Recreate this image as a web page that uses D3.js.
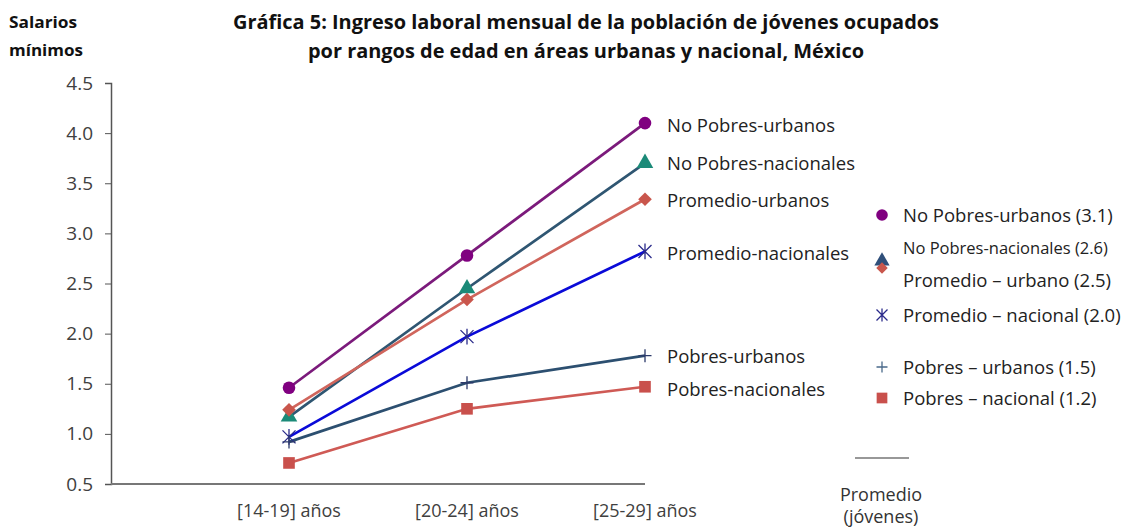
<!DOCTYPE html>
<html>
<head>
<meta charset="utf-8">
<script src="https://cdn.jsdelivr.net/npm/d3@7"></script>
<style>
  body { margin: 0; background: #fff; }
  text { font-family: "Open Sans", "Noto Sans", sans-serif; }
</style>
</head>
<body>
<div class="viz"></div>
<script>
// rangos de edad
const categories = ['[14-19] años', '[20-24] años', '[25-29] años'];
const yTicks = [0.5, 1.0, 1.5, 2.0, 2.5, 3.0, 3.5, 4.0, 4.5];

const noPobresUrbanos = [1.46, 2.78, 4.10];
const noPobresNacionales = [1.17, 2.45, 3.70];
const promedioUrbanos = [1.24, 2.34, 3.34];
const promedioNacionales = [0.97, 1.97, 2.82];
const pobresUrbanos = [0.92, 1.51, 1.78];
const pobresNacionales = [0.71, 1.25, 1.47];

const endLabels = ['No Pobres-urbanos', 'No Pobres-nacionales', 'Promedio-urbanos',
    'Promedio-nacionales', 'Pobres-urbanos', 'Pobres-nacionales'];
const promedioLabels = ['No Pobres-urbanos (3.1)', 'No Pobres-nacionales  (2.6)',
    'Promedio – urbano (2.5)', 'Promedio – nacional (2.0)',
    'Pobres – urbanos (1.5)', 'Pobres – nacional (1.2)'];
const promedioJovenes = [3.1, 2.6, 2.5, 2.0, 1.5, 1.2];

const series = [
    { values: noPobresUrbanos, line: '#7b1a7b', mark: '#800080', sym: 'circle' },
    { values: noPobresNacionales, line: '#2f5672', mark: '#1b8a78', sym: 'triangle' },
    { values: promedioUrbanos, line: '#d0655c', mark: '#c9564c', sym: 'diamond' },
    { values: promedioNacionales, line: '#0a0ad8', mark: '#2a2a8a', sym: 'x' },
    { values: pobresUrbanos, line: '#2c4f70', mark: '#2c3a6a', sym: 'plus' },
    { values: pobresNacionales, line: '#cf5a55', mark: '#c9504c', sym: 'square' }
];

const W = 1131, H = 527;
const svg = d3.select('.viz').append('svg').attr('width', W).attr('height', H);

const x = d3.scaleLinear().domain([0, 3]).range([111, 645]);
const y = d3.scaleLinear().domain([0.5, 4.5]).range([484, 83]);

// titulo
svg.append('text').attr('x', 586).attr('y', 29).attr('text-anchor', 'middle')
    .attr('font-size', 19).attr('font-weight', 'bold').attr('fill', '#111')
    .attr('textLength', 706).attr('lengthAdjust', 'spacingAndGlyphs')
    .text('Gráfica 5: Ingreso laboral mensual de la población de jóvenes ocupados');
svg.append('text').attr('x', 586).attr('y', 58).attr('text-anchor', 'middle')
    .attr('font-size', 19).attr('font-weight', 'bold').attr('fill', '#111')
    .attr('textLength', 556).attr('lengthAdjust', 'spacingAndGlyphs')
    .text('por rangos de edad en áreas urbanas y nacional, México');
svg.append('text').attr('x', 9).attr('y', 28).attr('font-size', 16)
    .attr('font-weight', 'bold').attr('fill', '#111')
    .attr('textLength', 68).attr('lengthAdjust', 'spacingAndGlyphs').text('Salarios');
svg.append('text').attr('x', 9).attr('y', 56).attr('font-size', 16)
    .attr('font-weight', 'bold').attr('fill', '#111')
    .attr('textLength', 74).attr('lengthAdjust', 'spacingAndGlyphs').text('mínimos');

// eje y
const yAxis = svg.append('g').attr('transform', 'translate(111,0)')
    .call(d3.axisLeft(y).tickValues(yTicks).tickFormat(d3.format('.1f')).tickSize(6).tickPadding(12));
yAxis.select('.domain').attr('stroke', '#555').attr('stroke-width', 1.5);
yAxis.selectAll('.tick line').attr('stroke', '#555');
yAxis.selectAll('.tick text').attr('font-size', 19).attr('fill', '#404040')
    .attr('font-family', '"Open Sans", sans-serif');

// eje x
svg.append('line').attr('x1', x(0)).attr('x2', x(3)).attr('y1', y(0.5)).attr('y2', y(0.5))
    .attr('stroke', '#777').attr('stroke-width', 2);
svg.selectAll('.xlab').data(categories).enter().append('text')
    .attr('x', (d, i) => x(i + 1)).attr('y', 517).attr('text-anchor', 'middle')
    .attr('font-size', 18).attr('fill', '#404040').text(d => d);

const symType = {
    circle: d3.symbolCircle, triangle: d3.symbolTriangle,
    x: d3.symbolX, plus: d3.symbolCross, square: d3.symbolSquare
};
function marker(g, s, size) {
    const r = size;
    if (s.sym === 'x' || s.sym === 'plus') {
        const p = s.sym === 'x'
            ? `M${-r},${-r}L${r},${r}M${-r},${r}L${r},${-r}M0,${-r * 1.2}L0,${r * 1.2}`
            : `M${-r},0L${r},0M0,${-r}L0,${r}`;
        g.append('path').attr('d', p).attr('stroke', s.mark).attr('stroke-width', 1.3).attr('fill', 'none');
    } else if (s.sym === 'diamond') {
        const d = r * 1.05;
        g.append('path').attr('d', `M0,${-d}L${d},0L0,${d}L${-d},0Z`).attr('fill', s.mark);
    } else {
        const area = { circle: 115, triangle: 110, square: 125 }[s.sym];
        g.append('path').attr('d', d3.symbol(symType[s.sym], area * size / 6)()).attr('fill', s.mark);
    }
}

const line = d3.line().x((d, i) => x(i + 1)).y(d => y(d));
series.forEach(s => {
    svg.append('path').datum(s.values).attr('d', line)
        .attr('fill', 'none').attr('stroke', s.line).attr('stroke-width', 2.7);
});
series.forEach(s => {
    s.values.forEach((v, i) => {
        const g = svg.append('g').attr('transform', `translate(${x(i + 1)},${y(v)})`);
        marker(g, s, 6.5);
    });
});

// etiquetas al final de las líneas
const endY = [125, 163, 200, 253, 356, 389];
svg.selectAll('.endlab').data(endLabels).enter().append('text')
    .attr('x', 667).attr('y', (d, i) => endY[i] + 7).attr('font-size', 18.5).attr('fill', '#222')
    .text(d => d);

// leyenda promedio (jóvenes)
const legY = [215, 248, 280, 315, 367, 398];
promedioLabels.forEach((t, i) => {
    svg.append('text').attr('x', 903).attr('y', legY[i] + (i === 1 ? 6 : 7))
        .attr('font-size', i === 1 ? 16.5 : 18.5).attr('fill', '#222').text(t)
        .attr('data-value', promedioJovenes[i]);
});
[[0, 215], [1, 261], [2, 268], [3, 315], [4, 367], [5, 398]].forEach(([k, yy]) => {
    const s = Object.assign({}, series[k]);
    if (k === 1) s.mark = '#2f4f7a';
    if (k === 4) s.mark = '#4a6a8a';
    const g = svg.append('g').attr('transform', `translate(882,${yy})`);
    marker(g, s, 5.5);
});
svg.append('line').attr('x1', 855).attr('x2', 909).attr('y1', 458).attr('y2', 458)
    .attr('stroke', '#333').attr('stroke-width', 1.2);
svg.append('text').attr('x', 881).attr('y', 501).attr('text-anchor', 'middle')
    .attr('font-size', 18).attr('fill', '#333').text('Promedio');
svg.append('text').attr('x', 881).attr('y', 523).attr('text-anchor', 'middle')
    .attr('font-size', 18).attr('fill', '#333').text('(jóvenes)');
</script>
</body>
</html>
